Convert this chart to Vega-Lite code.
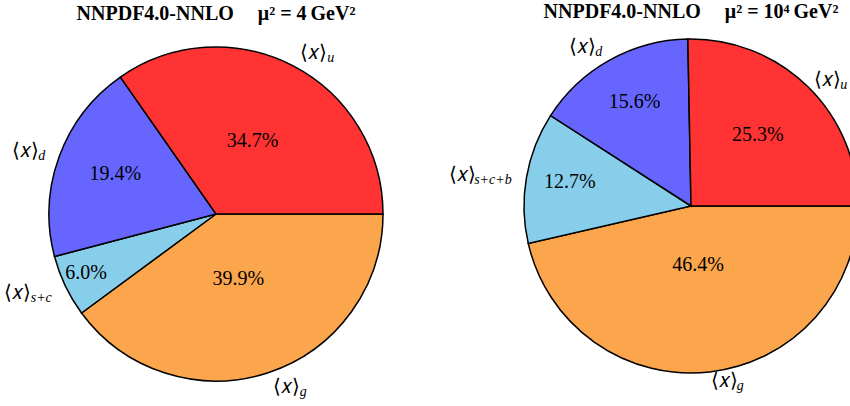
{
  "$schema": "https://vega.github.io/schema/vega-lite/v6.json",
  "padding": {"left": 1, "top": 2, "right": 0, "bottom": 0},
  "background": "white",
  "spacing": 100,
  "bounds": "flush",
  "resolve": {"scale": {"color": "independent", "theta": "independent", "radius": "independent"}},
  "config": {"view": {"stroke": null}, "font": "Liberation Serif"},
  "datasets": {
    "left": [
      {"part": "g", "k": 1, "pct": 39.9},
      {"part": "s+c", "k": 2, "pct": 6.0},
      {"part": "d", "k": 3, "pct": 19.4},
      {"part": "u", "k": 4, "pct": 34.7}
    ],
    "right": [
      {"part": "g", "k": 1, "pct": 46.4},
      {"part": "s+c+b", "k": 2, "pct": 12.7},
      {"part": "d", "k": 3, "pct": 15.6},
      {"part": "u", "k": 4, "pct": 25.3}
    ]
  },
  "hconcat": [
    {
      "width": 430,
      "height": 352,
      "title": {"text": "NNPDF4.0-NNLO\u2002\u2002\u2009μ² = 4\u2009GeV²", "font": "Liberation Serif", "fontSize": 20, "fontWeight": "bold", "offset": 14},
      "data": {"name": "left"},
      "transform": [
        {"stack": "pct", "groupby": [], "sort": [{"field": "k"}], "as": ["t0", "t1"]},
        {"calculate": "(datum.t0 + datum.t1) / 2", "as": "tm"},
        {"calculate": "format(datum.pct, '.1f') + '%'", "as": "label"}
      ],
      "layer": [
        {
          "mark": {"type": "arc", "outerRadius": 167, "stroke": "black", "strokeWidth": 1.5},
          "encoding": {
            "theta": {"field": "t0", "type": "quantitative", "scale": {"domain": [0, 100], "range": [1.5707963, 7.8539816]}},
            "theta2": {"field": "t1"},
            "color": {"field": "part", "type": "nominal", "scale": {"domain": ["u", "d", "s+c", "g"], "range": ["#ff3333", "#6666ff", "#87ceeb", "#fba54d"]}, "legend": null}
          }
        },
        {
          "mark": {"type": "text", "font": "Liberation Serif", "fontSize": 20, "baseline": "middle", "align": "center", "dy": -3},
          "encoding": {
            "theta": {"field": "tm", "type": "quantitative", "scale": {"domain": [0, 100], "range": [1.5707963, 7.8539816]}},
            "radius": {"field": "pct", "type": "quantitative", "scale": {"type": "pow", "exponent": 0.5, "zero": false, "domain": [6, 46.4], "range": [144, 62]}},
            "text": {"field": "label"},
            "color": {"value": "black"}
          }
        },
        {
          "transform": [{"filter": "datum.part == 'u' || datum.part == 'g'"}],
          "mark": {"type": "text", "font": "Liberation Serif", "fontSize": 20, "baseline": "middle", "align": "left", "radius": 182},
          "encoding": {
            "theta": {"field": "tm", "type": "quantitative"},
            "text": {"value": "⟨𝑥⟩"},
            "color": {"value": "black"}
          }
        },
        {
          "transform": [{"filter": "datum.part == 'u' || datum.part == 'g'"}],
          "mark": {"type": "text", "font": "Liberation Serif", "fontSize": 14, "fontStyle": "italic", "baseline": "middle", "align": "left", "radius": 182, "dx": 27, "dy": 5},
          "encoding": {
            "theta": {"field": "tm", "type": "quantitative"},
            "text": {"field": "part"},
            "color": {"value": "black"}
          }
        },
        {
          "transform": [{"filter": "datum.part == 'd' || datum.part == 's+c'"}],
          "mark": {"type": "text", "font": "Liberation Serif", "fontSize": 14, "fontStyle": "italic", "baseline": "middle", "align": "right", "radius": 182, "dy": 5},
          "encoding": {
            "theta": {"field": "tm", "type": "quantitative"},
            "text": {"field": "part"},
            "color": {"value": "black"}
          }
        },
        {
          "transform": [{"filter": "datum.part == 'd'"}],
          "mark": {"type": "text", "font": "Liberation Serif", "fontSize": 20, "baseline": "middle", "align": "right", "radius": 182, "dx": -6},
          "encoding": {
            "theta": {"field": "tm", "type": "quantitative"},
            "text": {"value": "⟨𝑥⟩"},
            "color": {"value": "black"}
          }
        },
        {
          "transform": [{"filter": "datum.part == 's+c'"}],
          "mark": {"type": "text", "font": "Liberation Serif", "fontSize": 20, "baseline": "middle", "align": "right", "radius": 182, "dx": -21},
          "encoding": {
            "theta": {"field": "tm", "type": "quantitative"},
            "text": {"value": "⟨𝑥⟩"},
            "color": {"value": "black"}
          }
        }
      ]
    },
    {
      "width": 320,
      "height": 336,
      "title": {"text": "NNPDF4.0-NNLO\u2002\u2002\u2009μ² = 10⁴\u2009GeV²", "font": "Liberation Serif", "fontSize": 20, "fontWeight": "bold", "offset": 14},
      "data": {"name": "right"},
      "transform": [
        {"stack": "pct", "groupby": [], "sort": [{"field": "k"}], "as": ["t0", "t1"]},
        {"calculate": "(datum.t0 + datum.t1) / 2", "as": "tm"},
        {"calculate": "format(datum.pct, '.1f') + '%'", "as": "label"}
      ],
      "layer": [
        {
          "mark": {"type": "arc", "outerRadius": 167, "stroke": "black", "strokeWidth": 1.5},
          "encoding": {
            "theta": {"field": "t0", "type": "quantitative", "scale": {"domain": [0, 100], "range": [1.5707963, 7.8539816]}},
            "theta2": {"field": "t1"},
            "color": {"field": "part", "type": "nominal", "scale": {"domain": ["u", "d", "s+c+b", "g"], "range": ["#ff3333", "#6666ff", "#87ceeb", "#fba54d"]}, "legend": null}
          }
        },
        {
          "mark": {"type": "text", "font": "Liberation Serif", "fontSize": 20, "baseline": "middle", "align": "center", "dy": -3},
          "encoding": {
            "theta": {"field": "tm", "type": "quantitative", "scale": {"domain": [0, 100], "range": [1.5707963, 7.8539816]}},
            "radius": {"field": "pct", "type": "quantitative", "scale": {"type": "pow", "exponent": 0.5, "zero": false, "domain": [6, 46.4], "range": [144, 62]}},
            "text": {"field": "label"},
            "color": {"value": "black"}
          }
        },
        {
          "transform": [{"filter": "datum.part == 'u' || datum.part == 'g'"}],
          "mark": {"type": "text", "font": "Liberation Serif", "fontSize": 20, "baseline": "middle", "align": "left", "radius": 176},
          "encoding": {
            "theta": {"field": "tm", "type": "quantitative"},
            "text": {"value": "⟨𝑥⟩"},
            "color": {"value": "black"}
          }
        },
        {
          "transform": [{"filter": "datum.part == 'u' || datum.part == 'g'"}],
          "mark": {"type": "text", "font": "Liberation Serif", "fontSize": 14, "fontStyle": "italic", "baseline": "middle", "align": "left", "radius": 176, "dx": 26, "dy": 5},
          "encoding": {
            "theta": {"field": "tm", "type": "quantitative"},
            "text": {"field": "part"},
            "color": {"value": "black"}
          }
        },
        {
          "transform": [{"filter": "datum.part == 'd' || datum.part == 's+c+b'"}],
          "mark": {"type": "text", "font": "Liberation Serif", "fontSize": 14, "fontStyle": "italic", "baseline": "middle", "align": "right", "radius": 182, "dy": 5},
          "encoding": {
            "theta": {"field": "tm", "type": "quantitative"},
            "text": {"field": "part"},
            "color": {"value": "black"}
          }
        },
        {
          "transform": [{"filter": "datum.part == 'd'"}],
          "mark": {"type": "text", "font": "Liberation Serif", "fontSize": 20, "baseline": "middle", "align": "right", "radius": 182, "dx": -6},
          "encoding": {
            "theta": {"field": "tm", "type": "quantitative"},
            "text": {"value": "⟨𝑥⟩"},
            "color": {"value": "black"}
          }
        },
        {
          "transform": [{"filter": "datum.part == 's+c+b'"}],
          "mark": {"type": "text", "font": "Liberation Serif", "fontSize": 20, "baseline": "middle", "align": "right", "radius": 182, "dx": -36},
          "encoding": {
            "theta": {"field": "tm", "type": "quantitative"},
            "text": {"value": "⟨𝑥⟩"},
            "color": {"value": "black"}
          }
        }
      ]
    }
  ]
}
